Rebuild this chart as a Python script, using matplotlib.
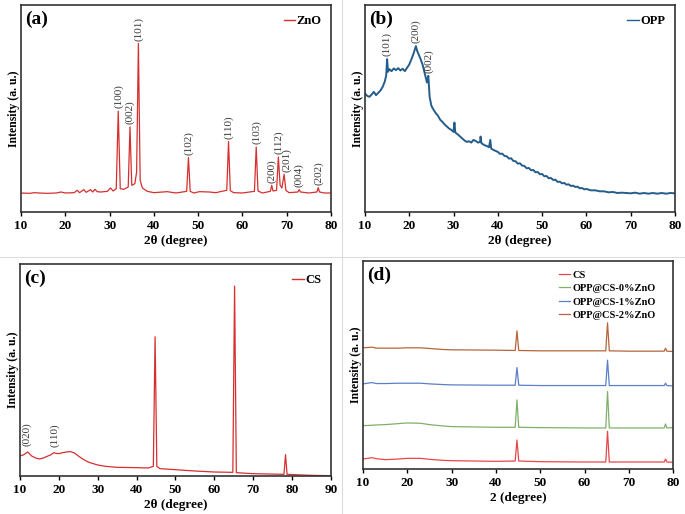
"""
XRD patterns: ZnO, OPP, CS and OPP@CS-ZnO films (four panels).
"""

import matplotlib.pyplot as plt
from matplotlib.lines import Line2D

plt.rcParams['font.family'] = ['Liberation Serif', 'DejaVu Serif']
plt.rcParams['font.weight'] = 'bold'

# ---- (a) ZnO ----
zno_x = [10, 12, 13, 14, 16, 18, 19, 20, 22, 22.7, 23.2, 24.2, 24.7, 25.7, 26.2, 26.7,
         27.2, 28, 29.5, 30.2, 30.8, 31.5, 31.95, 32.4, 33.2, 34.2, 34.6, 35.0, 35.7,
         36.1, 36.5, 36.9, 37.4, 38.5, 40, 43, 45, 47.4, 47.8, 48.2, 49, 50.3, 52.5,
         54, 55, 56.45, 56.85, 57.25, 58, 60, 62.7, 63.1, 63.5, 64.5, 66.3, 66.6, 66.9,
         67.7, 68.1, 68.5, 68.9, 69.4, 69.8, 70.5, 72.5, 72.8, 73.1, 75, 76.8, 77.1,
         77.4, 78.5, 80]
zno_y = [57, 56, 58, 57, 56, 57, 60, 57, 58, 65, 58, 67, 59, 67, 60, 68,
         61, 60, 62, 72, 63, 70, 302, 70, 68, 75, 255, 80, 85,
         120, 505, 95, 72, 62, 58, 61, 57, 62, 163, 62, 57, 61, 60,
         58, 61, 65, 211, 64, 58, 57, 62, 195, 63, 57, 62, 80, 63,
         65, 165, 80, 72, 113, 65, 58, 60, 67, 60, 57, 60, 73,
         60, 57, 57]
zno_hkl = ['(100)', '(002)', '(101)', '(102)', '(110)', '(103)', '(200)', '(112)',
           '(201)', '(004)', '(202)']
zno_hkl_x = [31.95, 34.6, 36.5, 47.8, 56.85, 63.1, 66.6, 68.1, 69.9, 72.8, 77.1]
zno_hkl_y = [302, 255, 505, 163, 211, 195, 80, 165, 113, 67, 73]

# ---- (b) OPP ----
opp_x = [10.0, 10.5, 11.0, 11.5, 12.0, 12.5, 13.0, 13.5, 14.0, 14.5, 14.8, 15.0, 15.2,
         15.5, 16.0, 16.5, 17.0, 17.5, 18.0, 18.5, 19.0, 19.5, 20.0, 20.5, 21.0, 21.3,
         21.5, 21.8, 22.0, 22.5, 23.0, 23.5, 24.0, 24.3, 24.6, 25.0, 25.5, 26.0, 26.5,
         27.0, 27.5, 28.0, 28.5, 29.0, 29.5, 30.0, 30.2, 30.4, 31.0, 31.5, 32.0, 32.5,
         33.0, 33.5, 34.0, 34.5, 35.0, 35.5, 36.0, 36.1, 36.3, 37.0, 37.5, 38.0, 38.3,
         38.5, 39.0, 39.5, 40.0, 40.5, 41.0, 41.5, 42.0, 42.5, 43.0, 43.5, 44.0, 44.5,
         45.0, 45.5, 46.0, 46.5, 47.0, 47.5, 48.0, 48.5, 49.0, 49.5, 50.0, 50.5, 51.0,
         51.5, 52.0, 52.5, 53.0, 53.5, 54.0, 54.5, 55.0, 55.5, 56.0, 56.5, 57.0, 57.5,
         58.0, 58.5, 59.0, 59.5, 60.0, 61.0, 62.0, 63.0, 64.0, 65.0, 66.0, 67.0, 68.0,
         70.0, 71.0, 72.0, 73.0, 74.0, 75.0, 76.0, 77.0, 78.0, 79.0, 80.0]
opp_y = [355, 348, 345, 352, 360, 350, 357, 364, 375, 392, 410, 458, 420,
         428, 422, 430, 425, 431, 424, 429, 422, 432, 442, 458, 476, 488,
         497, 482, 476, 460, 442, 415, 388, 408, 345, 318, 306, 296, 288,
         276, 270, 262, 256, 250, 246, 240, 268, 238, 232, 226, 220, 214,
         210, 212, 208, 216, 213, 208, 210, 226, 206, 200, 198, 194, 216,
         190, 186, 183, 180, 174, 175, 168, 167, 160, 161, 153, 152, 145,
         146, 139, 138, 131, 132, 125, 126, 119, 120, 113, 114, 107, 108,
         101, 102, 96, 97, 90, 91, 86, 87, 82, 83, 78, 79, 75,
         76, 71, 72, 68, 69, 65, 65, 62, 62, 59, 60, 57, 58,
         56, 58, 55, 57, 55, 57, 55, 57, 55, 57, 56]
opp_hkl = ['(101)', '(200)', '(002)']
opp_hkl_x = [15.0, 21.5, 24.4]
opp_hkl_y = [458, 497, 408]

# ---- (c) CS ----
cs_x = [10, 11, 11.5, 12, 12.5, 13, 14, 15, 16, 17, 18, 18.7, 19.2, 20, 21, 22, 23, 24,
        25, 26, 27, 28, 30, 32, 35, 40, 43, 44.3, 44.75, 45.2, 46, 50, 55, 60, 64.75,
        65.2, 65.65, 70, 77.9, 78.3, 78.7, 85, 90]
cs_y = [60, 64, 68, 72, 66, 60, 54, 51, 54, 59, 64, 70, 68, 67, 70, 72, 73, 69,
        60, 52, 45, 40, 33, 29, 26, 25, 24, 29, 417, 29, 22, 19, 15, 12, 11,
        569, 10, 7, 5, 64, 5, 2, 1]
cs_hkl = ['(020)', '(110)']
cs_hkl_x = [11.8, 18.8]
cs_hkl_y = [82, 80]

# ---- (d) films, vertically offset ----
film_x = [10, 12, 13, 15, 18, 20, 23, 25, 28, 30, 40, 44.35, 44.75, 45.15, 50, 60,
          64.8, 65.2, 65.6, 70, 78.0, 78.3, 78.6, 80]
film_cs = [30, 34, 31, 28, 30, 32, 32, 29, 26, 25, 23, 24, 87, 24, 22, 21,
           21, 113, 21, 21, 21, 30, 21, 20]
film_0 = [130, 131, 132, 133, 136, 138, 137, 133, 129, 127, 125, 125, 207, 125, 124, 123,
          123, 232, 123, 123, 123, 135, 123, 124]
film_1 = [255, 259, 256, 256, 257, 257, 257, 255, 253, 252, 251, 251, 304, 251, 250, 250,
          250, 326, 250, 250, 250, 257, 250, 249]
film_2 = [363, 365, 362, 362, 362, 363, 363, 361, 358, 357, 356, 355, 414, 355, 354, 354,
          354, 438, 354, 353, 353, 362, 353, 352]
film_names = ['CS', 'OPP@CS-0%ZnO', 'OPP@CS-1%ZnO', 'OPP@CS-2%ZnO']
film_colors = ['#e8474a', '#7fb069', '#5b7fc7', '#b5653a']

RED = '#d62f2f'
NAVY = '#245c8c'
HKL_COLOR = '#3a3a3a'


def style_axes(ax, xlim, ylim, xticks, xlabel, tag):
    ax.set_xlim(*xlim)
    ax.set_ylim(*ylim)
    ax.set_xticks(xticks)
    ax.set_yticks([])
    ax.tick_params(axis='x', direction='out', length=3, width=1.0, pad=3,
                   labelsize=9.5)
    for lab in ax.get_xticklabels():
        lab.set_fontweight('bold')
    for sp in ax.spines.values():
        sp.set_linewidth(1.2)
        sp.set_color('#333333')
    ax.set_xlabel(xlabel, fontsize=9.5, fontweight='bold', labelpad=2)
    ax.set_ylabel('Intensity (a. u.)', fontsize=8.5, fontweight='bold', labelpad=0.5)
    ax.text(0.013, 0.975, tag, transform=ax.transAxes, ha='left', va='top',
            fontsize=14, fontweight='bold')


def single_legend(ax, color, name):
    h = [Line2D([], [], color=color, lw=1.0)]
    ax.legend(h, [name], loc='upper right', frameon=False, handlelength=0.9,
              handletextpad=0.1, borderaxespad=0.4,
              prop={'weight': 'bold', 'size': 9})


def hkl_labels(ax, xs, ys, labels):
    for x, y, t in zip(xs, ys, labels):
        ax.annotate(t, (x, y), xytext=(0, 2), textcoords='offset points',
                    rotation=90, ha='center', va='bottom', fontsize=8,
                    fontweight='normal', color=HKL_COLOR)


fig = plt.figure(figsize=(6.85, 5.14), dpi=100)

ax_a = fig.add_axes([0.0307, 0.5875, 0.4526, 0.4027])
ax_b = fig.add_axes([0.5328, 0.5875, 0.4526, 0.4027])
ax_c = fig.add_axes([0.0292, 0.0739, 0.4540, 0.4125])
ax_d = fig.add_axes([0.5300, 0.0875, 0.4526, 0.4047])

# (a)
ax_a.plot(zno_x, zno_y, color=RED, lw=0.9)
style_axes(ax_a, (10, 80), (0, 620), range(10, 81, 10), '2θ (degree)', '(a)')
single_legend(ax_a, RED, 'ZnO')
hkl_labels(ax_a, zno_hkl_x, zno_hkl_y, zno_hkl)

# (b)
ax_b.plot(opp_x, opp_y, color=NAVY, lw=1.4)
style_axes(ax_b, (10, 80), (0, 620), range(10, 81, 10), '2θ (degree)', '(b)')
single_legend(ax_b, NAVY, 'OPP')
hkl_labels(ax_b, opp_hkl_x, opp_hkl_y, opp_hkl)

# (c)
ax_c.plot(cs_x, cs_y, color=RED, lw=0.9)
style_axes(ax_c, (10, 90), (0, 635), range(10, 91, 10), '2θ (degree)', '(c)')
single_legend(ax_c, RED, 'CS')
hkl_labels(ax_c, cs_hkl_x, cs_hkl_y, cs_hkl)

# (d)
for ys, name, col in zip([film_cs, film_0, film_1, film_2], film_names, film_colors):
    ax_d.plot(film_x, ys, color=col, lw=0.9, label=name)
style_axes(ax_d, (10, 80), (0, 623), range(10, 81, 10), '2 (degree)', '(d)')
ax_d.legend(loc='upper right', frameon=False, handlelength=1.1, handletextpad=0.2,
            labelspacing=0.4, borderaxespad=0.5, bbox_to_anchor=(0.975, 1.0),
            prop={'weight': 'bold', 'size': 7.5})

# light panel separators
fig.add_artist(Line2D([342 / 685, 342 / 685], [0, 1], transform=fig.transFigure,
                      color='#dcdcdc', lw=0.8))
fig.add_artist(Line2D([0, 1], [1 - 257 / 514, 1 - 257 / 514], transform=fig.transFigure,
                      color='#dcdcdc', lw=0.8))

plt.savefig('out.png', dpi=100)
